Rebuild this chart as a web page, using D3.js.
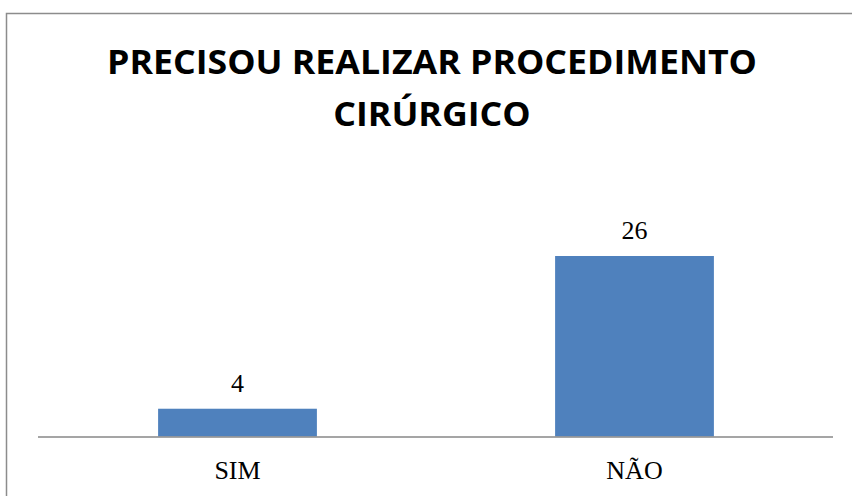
<!DOCTYPE html>
<html>
<head>
<meta charset="utf-8">
<script src="https://cdn.jsdelivr.net/npm/d3@7"></script>
<style>
  body { margin: 0; background: #fff; }
  .title { font-family: "Open Sans", sans-serif; font-weight: bold; fill: #000; font-size: 34px; }
  .lbl { font-family: "Liberation Serif", serif; font-size: 26px; fill: #000; }
</style>
</head>
<body>
<div id="chart"></div>
<script>
const categories = ['SIM', 'NÃO']
const values = [4, 26]
const titleLines = ['PRECISOU REALIZAR PROCEDIMENTO', 'CIRÚRGICO']

const width = 852
const height = 496

const svg = d3.select('#chart').append('svg')
    .attr('width', width)
    .attr('height', height)

// outer frame, runs off the right and bottom edges
svg.append('rect')
    .attr('x', 6.5)
    .attr('y', 13.5)
    .attr('width', 900)
    .attr('height', 600)
    .attr('fill', 'none')
    .attr('stroke', '#8c8c8c')
    .attr('stroke-width', 1.5)

const data = categories.map((c, i) => ({ cat: c, value: values[i] }))

const x = d3.scaleBand()
    .domain(categories)
    .range([39, 833])
    .paddingInner(0.6)
    .paddingOuter(0.3)

const y = d3.scaleLinear()
    .domain([0, 26])
    .range([436.5, 256])

// title: squeeze the wide font to the narrower width of the original
const titleText = svg.selectAll('text.title').data(titleLines)
    .enter()
    .append('text')
        .attr('class', 'title')
        .attr('x', 432)
        .attr('y', (d, i) => [74, 126][i])
        .attr('text-anchor', 'middle')
        .text(d => d)
const squeeze = 650 / titleText.nodes()[0].getComputedTextLength()
titleText.each(function() {
    const w = this.getComputedTextLength()
    d3.select(this)
        .attr('textLength', w * squeeze)
        .attr('lengthAdjust', 'spacingAndGlyphs')
})

svg.selectAll('rect.bar').data(data)
    .enter()
    .append('rect')
        .attr('class', 'bar')
        .attr('x', d => x(d.cat))
        .attr('y', d => y(d.value))
        .attr('width', x.bandwidth())
        .attr('height', d => y(0) - y(d.value))
        .attr('fill', '#4f81bd')

svg.append('line')
    .attr('x1', 38)
    .attr('x2', 833)
    .attr('y1', y(0) + 0.5)
    .attr('y2', y(0) + 0.5)
    .attr('stroke', '#878787')
    .attr('stroke-width', 1.5)

svg.selectAll('text.val').data(data)
    .enter()
    .append('text')
        .attr('class', 'lbl val')
        .attr('x', d => x(d.cat) + x.bandwidth() / 2)
        .attr('y', d => y(d.value) - 17)
        .attr('text-anchor', 'middle')
        .text(d => d.value)

svg.selectAll('text.cat').data(data)
    .enter()
    .append('text')
        .attr('class', 'lbl cat')
        .attr('x', d => x(d.cat) + x.bandwidth() / 2)
        .attr('y', 479)
        .attr('text-anchor', 'middle')
        .text(d => d.cat)
</script>
</body>
</html>
